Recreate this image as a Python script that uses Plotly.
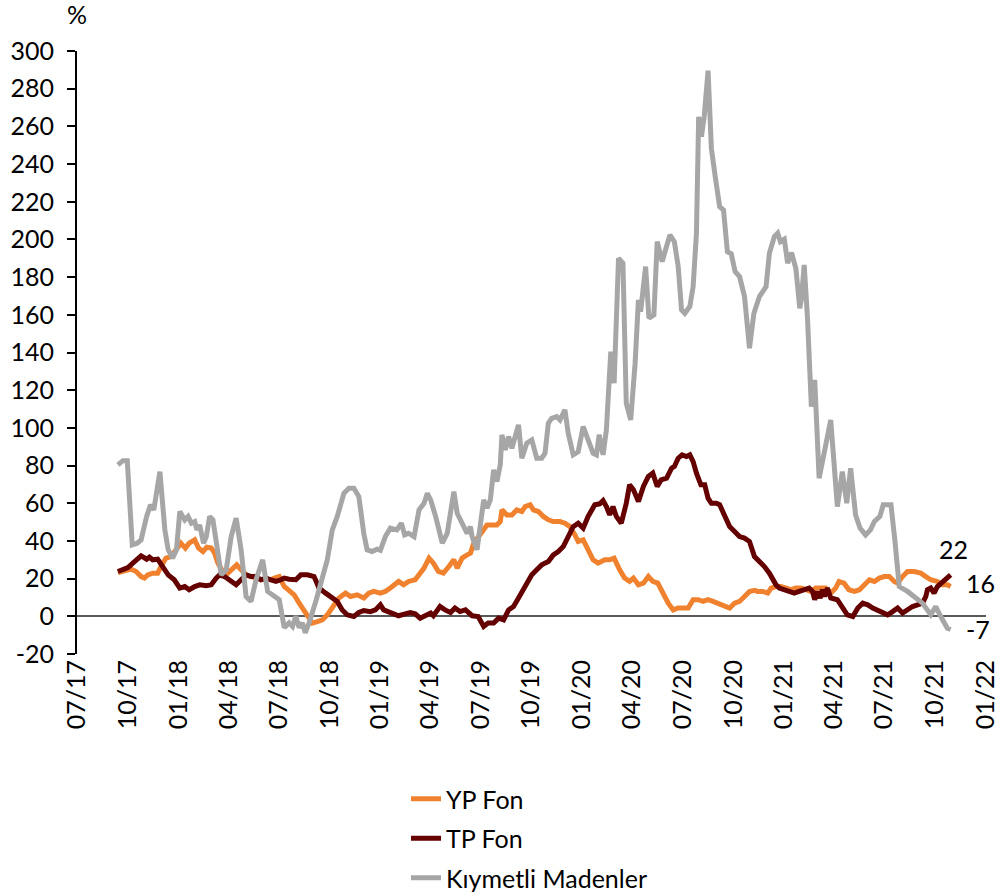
import plotly.graph_objects as go

# ---------------- data ----------------
series_names = ["YP Fon", "TP Fon", "Kıymetli Madenler"]
series_colors = ["#F0822F", "#640000", "#A6A6A6"]

yp_dates = [
    "2017-09-13", "2017-09-25", "2017-10-07", "2017-10-16", "2017-10-25", "2017-10-31", "2017-11-06", "2017-11-15", "2017-11-24", "2017-11-30",
    "2017-12-09", "2017-12-18", "2017-12-28", "2018-01-05", "2018-01-13", "2018-01-20", "2018-01-30", "2018-02-06", "2018-02-14", "2018-02-21",
    "2018-03-01", "2018-03-07", "2018-03-13", "2018-03-22", "2018-03-31", "2018-04-09", "2018-04-16", "2018-04-24", "2018-05-03", "2018-05-12",
    "2018-05-21", "2018-05-30", "2018-06-08", "2018-06-17", "2018-06-23", "2018-07-02", "2018-07-11", "2018-07-20", "2018-07-29", "2018-08-07",
    "2018-08-16", "2018-08-22", "2018-08-31", "2018-09-09", "2018-09-18", "2018-09-27", "2018-10-06", "2018-10-18", "2018-10-30", "2018-11-08",
    "2018-11-20", "2018-12-02", "2018-12-11", "2018-12-20", "2019-01-01", "2019-01-10", "2019-01-19", "2019-01-28", "2019-02-03", "2019-02-12",
    "2019-02-21", "2019-03-05", "2019-03-12", "2019-03-21", "2019-03-30", "2019-04-07", "2019-04-16", "2019-04-25", "2019-05-05", "2019-05-14",
    "2019-05-20", "2019-05-29", "2019-06-07", "2019-06-13", "2019-06-19", "2019-06-28", "2019-07-07", "2019-07-13", "2019-07-22", "2019-07-31",
    "2019-08-06", "2019-08-09", "2019-08-18", "2019-08-27", "2019-09-05", "2019-09-14", "2019-09-20", "2019-09-29", "2019-10-05", "2019-10-14",
    "2019-10-23", "2019-11-01", "2019-11-10", "2019-11-22", "2019-12-01", "2019-12-10", "2019-12-19", "2019-12-25", "2020-01-03", "2020-01-12",
    "2020-01-21", "2020-01-30", "2020-02-11", "2020-02-20", "2020-02-28", "2020-03-09", "2020-03-18", "2020-03-27", "2020-04-03", "2020-04-12",
    "2020-04-21", "2020-04-30", "2020-05-08", "2020-05-17", "2020-05-26", "2020-06-05", "2020-06-14", "2020-06-23", "2020-07-02", "2020-07-11",
    "2020-07-20", "2020-07-29", "2020-08-07", "2020-08-16", "2020-08-25", "2020-09-03", "2020-09-15", "2020-09-24", "2020-10-03", "2020-10-12",
    "2020-10-21", "2020-10-30", "2020-11-08", "2020-11-14", "2020-11-23", "2020-12-02", "2020-12-08", "2020-12-17", "2020-12-26", "2021-01-04",
    "2021-01-13", "2021-01-22", "2021-01-31", "2021-02-09", "2021-02-18", "2021-02-27", "2021-03-08", "2021-03-17", "2021-03-26", "2021-04-04",
    "2021-04-10", "2021-04-19", "2021-04-28", "2021-05-08", "2021-05-17", "2021-05-26", "2021-06-04", "2021-06-13", "2021-06-22", "2021-07-01",
    "2021-07-10", "2021-07-19", "2021-07-25", "2021-08-03", "2021-08-12", "2021-08-24", "2021-09-05", "2021-09-14", "2021-09-23", "2021-10-05",
    "2021-10-14", "2021-10-23", "2021-10-29",
]
yp_values = [
    23.2, 24.3, 25, 23.8, 21.1, 20.3, 22, 22.9, 22.9, 26.4,
    30.9, 31.7, 35.3, 38.8, 36.2, 38.8, 40.6, 36.2, 34.4, 36.7,
    36.2, 33.5, 28.2, 23.8, 22.9, 25.6, 27.3, 24.7, 22, 21.1,
    20.3, 19.4, 19.7, 19.4, 20.3, 21.1, 15.8, 13.2, 11.4, 7,
    3.4, 0.8, -3.6, -2.8, -1.9, 0.8, 4.5, 9.7, 12.3, 10.5,
    11.4, 9.7, 12.3, 13.2, 12.3, 13.2, 15, 16.7, 18.5, 16.7,
    18.5, 19.4, 22, 25.6, 30.9, 28.2, 23.8, 22.9, 26.4, 30,
    25.6, 30.9, 32.6, 33.5, 38.8, 42.3, 45.9, 48.5, 48.5, 48.5,
    50.3, 56.5, 53.8, 53.8, 56.5, 55.6, 58.2, 59.2, 56.5, 55.6,
    53, 51.2, 50.3, 50.3, 49.4, 47.6, 43.2, 39.7, 40.6, 35.3,
    30, 28.2, 30, 30, 30.9, 24.7, 20.3, 18.5, 20.3, 16.7,
    17.6, 21.1, 18.5, 17.6, 12.3, 7, 3.4, 4.4, 4.4, 4.4,
    8.8, 8.8, 7.9, 8.8, 7.9, 7, 5.2, 4.4, 7, 7.9,
    10.5, 13.2, 13.8, 13.2, 13.2, 12.3, 15, 15.8, 15.8, 15,
    14.1, 15, 15, 14.1, 13.2, 15, 15, 15, 12.3, 15,
    18.5, 17.6, 14.1, 13.2, 14.1, 16.7, 19.4, 18.5, 20.3, 21.1,
    21.1, 18.5, 17.6, 21.1, 23.8, 23.8, 22.9, 21.1, 19.4, 18.5,
    16.7, 16.7, 15.8,
]

tp_dates = [
    "2017-09-13", "2017-09-22", "2017-10-01", "2017-10-10", "2017-10-17", "2017-10-25", "2017-11-04", "2017-11-09", "2017-11-15", "2017-11-24",
    "2017-12-03", "2017-12-13", "2017-12-24", "2018-01-03", "2018-01-12", "2018-01-20", "2018-01-30", "2018-02-08", "2018-02-20", "2018-03-01",
    "2018-03-10", "2018-03-16", "2018-03-25", "2018-04-03", "2018-04-15", "2018-04-24", "2018-05-03", "2018-05-12", "2018-05-21", "2018-05-30",
    "2018-06-08", "2018-06-17", "2018-06-26", "2018-07-05", "2018-07-11", "2018-07-20", "2018-08-01", "2018-08-10", "2018-08-22", "2018-09-03",
    "2018-09-12", "2018-09-24", "2018-10-06", "2018-10-15", "2018-10-24", "2018-11-02", "2018-11-14", "2018-11-23", "2018-12-02", "2018-12-14",
    "2018-12-23", "2019-01-01", "2019-01-07", "2019-01-19", "2019-02-03", "2019-02-15", "2019-02-24", "2019-03-05", "2019-03-14", "2019-03-23",
    "2019-04-02", "2019-04-07", "2019-04-19", "2019-04-28", "2019-05-08", "2019-05-16", "2019-05-25", "2019-06-04", "2019-06-16", "2019-06-27",
    "2019-07-07", "2019-07-15", "2019-07-25", "2019-08-03", "2019-08-12", "2019-08-21", "2019-08-30", "2019-09-08", "2019-09-20", "2019-10-02",
    "2019-10-11", "2019-10-20", "2019-11-01", "2019-11-10", "2019-11-19", "2019-11-28", "2019-12-07", "2019-12-16", "2019-12-25", "2020-01-03",
    "2020-01-12", "2020-01-24", "2020-02-02", "2020-02-08", "2020-02-14", "2020-02-20", "2020-02-26", "2020-03-03", "2020-03-12", "2020-03-21",
    "2020-03-27", "2020-04-03", "2020-04-12", "2020-04-21", "2020-04-30", "2020-05-08", "2020-05-16", "2020-05-23", "2020-06-02", "2020-06-11",
    "2020-06-16", "2020-06-23", "2020-06-30", "2020-07-08", "2020-07-14", "2020-07-20", "2020-07-26", "2020-08-03", "2020-08-10", "2020-08-16",
    "2020-08-22", "2020-08-31", "2020-09-06", "2020-09-15", "2020-09-24", "2020-10-03", "2020-10-12", "2020-10-21", "2020-10-30", "2020-11-08",
    "2020-11-17", "2020-11-26", "2020-12-05", "2020-12-11", "2020-12-17", "2020-12-23", "2021-01-01", "2021-01-10", "2021-01-19", "2021-01-28",
    "2021-02-06", "2021-02-15", "2021-02-21", "2021-02-25", "2021-03-02", "2021-03-07", "2021-03-11", "2021-03-15", "2021-03-20", "2021-03-26",
    "2021-04-07", "2021-04-16", "2021-04-25", "2021-05-05", "2021-05-14", "2021-05-23", "2021-06-01", "2021-06-10", "2021-06-19", "2021-06-28",
    "2021-07-07", "2021-07-16", "2021-07-25", "2021-08-03", "2021-08-12", "2021-08-21", "2021-08-30", "2021-09-08", "2021-09-14", "2021-09-17",
    "2021-09-23", "2021-09-29", "2021-10-05", "2021-10-12", "2021-10-17", "2021-10-23", "2021-10-29",
]
tp_values = [
    23.8, 25, 25.9, 28.2, 30, 32.1, 30.3, 31.4, 30, 30.3,
    26.4, 22, 19.4, 15, 15.8, 14.1, 15.8, 16.7, 16.2, 16.7,
    20.3, 22, 21.1, 19.4, 16.7, 19.4, 22, 21.1, 21.1, 19.4,
    20.3, 19.4, 18.5, 19.4, 20.3, 19.7, 19.4, 22, 22, 21.1,
    15, 12.3, 9.7, 7.9, 3.4, 0.8, -0.1, 2, 3.1, 2.5,
    3.4, 6.1, 3.4, 2, 0.3, 1.3, 2, 1.3, -1, 0.3,
    1.7, 0.3, 5.2, 3.4, 2, 4.4, 2.5, 3.4, 0.3, -0.1,
    -5.4, -3.6, -3.6, -1, -1.9, 3.4, 5.2, 9.7, 15.8, 22,
    24.7, 27.3, 29.1, 32.6, 34.4, 37, 42.3, 47.6, 49.4, 46.8,
    53, 59.2, 59.7, 61.4, 58.2, 53.8, 58.2, 53, 49.4, 60,
    69.8, 67.1, 60.9, 68.9, 74.2, 76, 68.9, 72.4, 73.3, 78.6,
    79.5, 83.9, 85.7, 84.8, 85.7, 82.1, 76, 69.8, 69.8, 62.7,
    60, 60, 59.2, 53, 47.6, 45, 42.3, 41.5, 39.7, 31.7,
    29.1, 26.4, 22.9, 19.4, 16.7, 15, 14.1, 13.2, 12.3, 13.2,
    14.1, 15, 13.2, 8.8, 13.2, 9.7, 14.1, 10.5, 15, 9.7,
    8.8, 5.2, 0.8, -0.1, 4.4, 7, 6.1, 4.4, 3.4, 1.7,
    0.8, 2.5, 4.4, 1.7, 3.4, 5.2, 6.1, 7, 10.5, 14.1,
    15, 12.3, 15.8, 17.6, 19.4, 21.1, 22,
]

km_dates = [
    "2017-09-13", "2017-09-22", "2017-09-30", "2017-10-09", "2017-10-18", "2017-10-25", "2017-11-04", "2017-11-11", "2017-11-17", "2017-11-28",
    "2017-12-07", "2017-12-13", "2017-12-21", "2017-12-28", "2018-01-03", "2018-01-12", "2018-01-18", "2018-01-24", "2018-01-30", "2018-02-03",
    "2018-02-08", "2018-02-15", "2018-02-20", "2018-02-26", "2018-03-04", "2018-03-13", "2018-03-19", "2018-03-28", "2018-04-06", "2018-04-15",
    "2018-04-24", "2018-05-03", "2018-05-12", "2018-05-21", "2018-06-02", "2018-06-11", "2018-06-23", "2018-07-02", "2018-07-11", "2018-07-20",
    "2018-07-26", "2018-08-01", "2018-08-07", "2018-08-13", "2018-08-18", "2018-08-25", "2018-09-07", "2018-09-18", "2018-09-27", "2018-10-06",
    "2018-10-15", "2018-10-27", "2018-11-05", "2018-11-14", "2018-11-23", "2018-12-02", "2018-12-08", "2018-12-17", "2018-12-26", "2019-01-01",
    "2019-01-10", "2019-01-19", "2019-01-31", "2019-02-08", "2019-02-14", "2019-02-21", "2019-03-03", "2019-03-12", "2019-03-21", "2019-03-27",
    "2019-04-02", "2019-04-11", "2019-04-23", "2019-05-02", "2019-05-08", "2019-05-14", "2019-05-20", "2019-05-29", "2019-06-07", "2019-06-13",
    "2019-06-16", "2019-06-25", "2019-07-01", "2019-07-07", "2019-07-13", "2019-07-19", "2019-07-25", "2019-07-31", "2019-08-06", "2019-08-09",
    "2019-08-15", "2019-08-21", "2019-08-27", "2019-09-02", "2019-09-08", "2019-09-14", "2019-09-23", "2019-10-02", "2019-10-11", "2019-10-20",
    "2019-10-26", "2019-11-01", "2019-11-07", "2019-11-16", "2019-11-22", "2019-12-01", "2019-12-07", "2019-12-16", "2019-12-25", "2020-01-03",
    "2020-01-12", "2020-01-21", "2020-01-27", "2020-02-01", "2020-02-08", "2020-02-14", "2020-02-22", "2020-02-28", "2020-03-07", "2020-03-15",
    "2020-03-21", "2020-03-29", "2020-04-06", "2020-04-12", "2020-04-16", "2020-04-25", "2020-05-01", "2020-05-10", "2020-05-16", "2020-05-25",
    "2020-05-31", "2020-06-08", "2020-06-16", "2020-06-23", "2020-06-29", "2020-07-05", "2020-07-14", "2020-07-20", "2020-07-26", "2020-07-30",
    "2020-08-04", "2020-08-09", "2020-08-16", "2020-08-22", "2020-08-29", "2020-09-06", "2020-09-13", "2020-09-20", "2020-09-27", "2020-10-04",
    "2020-10-12", "2020-10-21", "2020-10-30", "2020-11-07", "2020-11-17", "2020-11-29", "2020-12-05", "2020-12-14", "2020-12-20", "2020-12-25",
    "2021-01-01", "2021-01-07", "2021-01-14", "2021-01-22", "2021-01-29", "2021-02-01", "2021-02-06", "2021-02-12", "2021-02-19", "2021-02-25",
    "2021-03-05", "2021-03-14", "2021-03-26", "2021-04-07", "2021-04-16", "2021-04-24", "2021-05-01", "2021-05-10", "2021-05-18", "2021-05-28",
    "2021-06-06", "2021-06-13", "2021-06-23", "2021-06-29", "2021-07-13", "2021-07-20", "2021-07-28", "2021-08-12", "2021-08-30", "2021-09-08",
    "2021-09-23", "2021-10-02", "2021-10-11", "2021-10-23", "2021-10-29",
]
km_values = [
    80.4, 82.6, 82.6, 37.9, 38.8, 40.6, 53, 59.2, 56.5, 76.8,
    45.9, 35.3, 30.9, 35.3, 55.6, 51.2, 53, 49.4, 50.3, 45.9,
    48.5, 38.8, 42.3, 53, 51.2, 35.3, 22, 24.7, 42.3, 52.1,
    35.3, 10.5, 7.9, 19.4, 30, 13.2, 10.5, 8.8, -6, -3.5,
    -5.4, 0, -6, -3.5, -8.8, -3.5, 8.8, 19.4, 30, 45.9,
    53, 65.3, 68, 68, 63.6, 44, 35.3, 34.4, 35.6, 35,
    42.3, 46.8, 45.9, 49.4, 43.2, 44.1, 42.3, 56.5, 60, 65.3,
    61.8, 53, 38.8, 44, 56.5, 66.2, 54.7, 49.4, 44, 47.6,
    42.3, 35.3, 49.4, 61.8, 57.4, 61.8, 77.7, 71.5, 80.4, 96.3,
    88.3, 95.4, 89.2, 95.4, 101.6, 83.9, 91.9, 93.6, 83.9, 83.9,
    86.6, 102.5, 105.1, 106, 104.2, 109.5, 97, 85.7, 87.4, 100.7,
    93.6, 86.6, 85.7, 96.3, 85.7, 98.9, 140.5, 123.7, 190, 187.4,
    113.1, 104.2, 134.3, 167.9, 161.7, 185.6, 158.2, 160, 198.8, 188.2,
    194.4, 202.4, 198.8, 185.6, 162.6, 160.8, 164.4, 175, 203.3, 265.1,
    254.5, 265.1, 289.6, 248.4, 233.3, 217.4, 215.6, 193.5, 192.3, 182.9,
    180.3, 169.7, 142.3, 160.8, 169.7, 175, 192.7, 201.5, 203.3, 198.8,
    200.1, 187.4, 193, 184.5, 163.5, 168.8, 186.5, 158, 111.3, 125.5,
    73.3, 86.6, 104.2, 58.2, 76.8, 60, 78.6, 53.8, 46.8, 43.2,
    45.9, 50.3, 53, 59.2, 59.2, 40.6, 15.8, 13.2, 8.8, 7,
    0.8, 5.2, 0, -6.3, -7,
]

tick_dates = [
    "2017-07-01", "2017-10-01", "2018-01-01", "2018-04-01", "2018-07-01", "2018-10-01",
    "2019-01-01", "2019-04-01", "2019-07-01", "2019-10-01", "2020-01-01", "2020-04-01",
    "2020-07-01", "2020-10-01", "2021-01-01", "2021-04-01", "2021-07-01", "2021-10-01",
    "2022-01-01",
]
tick_labels = [
    "07/17", "10/17", "01/18", "04/18", "07/18", "10/18", "01/19", "04/19", "07/19",
    "10/19", "01/20", "04/20", "07/20", "10/20", "01/21", "04/21", "07/21", "10/21", "01/22",
]
y_ticks = list(range(-20, 301, 20))

assert len(yp_dates) == len(yp_values)
assert len(tp_dates) == len(tp_values)
assert len(km_dates) == len(km_values)

FONT = "Lato, 'Liberation Sans', sans-serif"
FS = 25

fig = go.Figure()
all_series = [(yp_dates, yp_values), (tp_dates, tp_values), (km_dates, km_values)]
for i, ((d, v), name, col) in enumerate(zip(all_series, series_names, series_colors)):
    fig.add_trace(go.Scatter(
        x=d, y=v, mode="lines", name=name, legendgroup=f"g{i}",
        line=dict(color=col, width=5),
    ))

# end-value labels
label_x = ["2021-11-22", "2021-10-04", "2021-11-22"]
label_y_offset = [1.8, 13.8, 0.4]
for i, (d, v) in enumerate(all_series):
    fig.add_annotation(
        x=label_x[i], y=v[-1] + label_y_offset[i], xref="x", yref="y",
        text=f"{round(v[-1]):.0f}", showarrow=False, xanchor="left", yanchor="middle",
        font=dict(family=FONT, size=FS, color="#000000"),
    )

fig.add_annotation(
    x=0, y=1.0 + 37 / 603, xref="paper", yref="paper", text="%", showarrow=False,
    xanchor="center", yanchor="middle", font=dict(family=FONT, size=FS, color="#000000"),
)

fig.update_layout(
    width=997, height=894,
    margin=dict(l=77, r=11, t=51, b=240, autoexpand=False),
    paper_bgcolor="white", plot_bgcolor="white",
    font=dict(family=FONT, size=FS, color="#000000"),
    showlegend=True,
    legend=dict(
        x=(406 - 77) / 909, y=(654 - 776) / 603, xanchor="left", yanchor="top",
        orientation="v", font=dict(family=FONT, size=FS, color="#000000"),
        tracegroupgap=4, bgcolor="rgba(0,0,0,0)",
    ),
    xaxis=dict(
        type="date", range=["2017-07-01", "2022-01-01"],
        tickmode="array", tickvals=tick_dates, ticktext=tick_labels,
        tickangle=-90, showgrid=False, showline=False, zeroline=False, ticks="",
        ticklabeloverflow="allow",
        tickfont=dict(family=FONT, size=FS, color="#000000"),
    ),
    yaxis=dict(
        range=[-20, 300], tickmode="array", tickvals=y_ticks,
        ticktext=[str(t) for t in y_ticks],
        showgrid=False, showline=True, linecolor="#000000", linewidth=2,
        ticks="outside", ticklen=8, tickwidth=2, tickcolor="#000000",
        zeroline=True, zerolinecolor="#595959", zerolinewidth=1.5,
        ticklabelstandoff=8,
        tickfont=dict(family=FONT, size=FS, color="#000000"),
    ),
)

fig.write_html("out.html", config={"displayModeBar": False},
               post_script="document.body.style.margin='0';")
